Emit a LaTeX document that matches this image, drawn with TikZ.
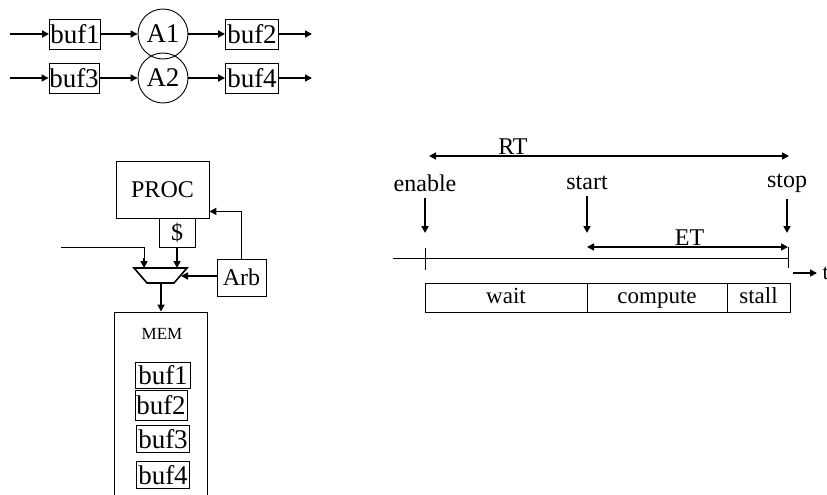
\documentclass[tikz,border=0pt]{standalone}
\usepackage{fontspec}
\setmainfont{Liberation Serif}
\usetikzlibrary{calc,arrows.meta,positioning}
\tikzset{
  bufbox/.style={draw,line width=0.9pt,inner sep=0pt,minimum width=51,minimum height=30,
    font=\fontsize{27}{30}\selectfont},
  actor/.style={circle,draw,line width=0.9pt,inner sep=0pt,minimum size=50,
    font=\fontsize{27}{30}\selectfont},
  barbox/.style={draw,line width=0.9pt,inner sep=0pt,outer sep=0pt,minimum height=29,
    text height=16pt,text depth=5pt,font=\fontsize{23}{26}\selectfont},
  flow/.style={->,line width=1.6pt},
}

\begin{document}
\begin{tikzpicture}[x=1pt, y=-1pt, >={Triangle[length=7pt,width=7pt]},
    font=\fontsize{24}{28}\selectfont]
    \useasboundingbox (0,0) rectangle (827,495);
    % two pipelines
    \node[bufbox] (b1) at (75,34) {buf1};
    \node[actor] (a1) at (163,34) {A1};
    \node[bufbox,minimum width=53] (b2) at (252,34) {buf2};
    \coordinate (in1) at (10,34);
    \coordinate (out1) at (312,34);
    \draw[flow] (in1) -- (b1);
    \draw[flow] (b1) -- (a1);
    \draw[flow] (a1) -- (b2);
    \draw[flow] (b2) -- (out1);
    \node[bufbox,minimum width=50] (b3) at (74,78) {buf3};
    \node[actor] (a2) at (163,78) {A2};
    \node[bufbox,minimum width=53] (b4) at (252,78) {buf4};
    \coordinate (in2) at (10,78);
    \coordinate (out2) at (312,78);
    \draw[flow] (in2) -- (b3);
    \draw[flow] (b3) -- (a2);
    \draw[flow] (a2) -- (b4);
    \draw[flow] (b4) -- (out2);
    % processor, cache, arbiter, mux
    \node[draw,line width=0.9pt,minimum width=93,minimum height=57] (proc) at (162.5,189.5) {PROC};
    \node[draw,line width=0.9pt,minimum width=36,minimum height=29,inner sep=0pt] (cache) at (177,232.5) {\$};
    \node[draw,line width=0.9pt,minimum width=49,minimum height=37,inner sep=0pt] (arb) at (241.5,277.5) {Arb};
    \coordinate (mtl) at (134,268);
    \coordinate (mtr) at (187,268);
    \coordinate (mbr) at (174,283);
    \coordinate (mbl) at (147,283);
    \draw[line width=1.6pt] (mtl) -- (mtr) -- (mbr) -- (mbl) -- cycle;
    \coordinate (ext) at (61,247);
    \coordinate (mux1) at (144,268);
    \coordinate (mux2) at (cache.south |- mtl);
    \coordinate (muxr) at (181,276);
    \coordinate (muxo) at (161,283);
    \draw[line width=0.9pt] (ext) -| (mux1);
    \draw[flow] ($(mux1)+(0,-10)$) -- (mux1);
    \draw[flow] (cache.south) -- (mux2);
    \draw[flow] (arb.west |- muxr) -- (muxr);
    \draw[flow] (arb.north) |- ($(proc.south east)+(0,-7)$);
    % memory
    \node[draw,line width=0.9pt,minimum width=93,minimum height=188] (mem) at (160.5,406) {};
    \draw[flow] (muxo) -- (muxo |- mem.north);
    \node[font=\fontsize{17}{20}\selectfont] (memlbl) at (162,334) {MEM};
    \node[bufbox,minimum width=55,minimum height=26] (m1) at (163,375) {buf1};
    \node[bufbox,minimum width=52] (m2) at (161,405) {buf2};
    \node[bufbox,minimum width=53,minimum height=27] (m3) at (163,439) {buf3};
    \node[bufbox,minimum width=53,minimum height=27] (m4) at (163,475) {buf4};
    % timeline
    \coordinate (rtl) at (429,156);
    \coordinate (rtr) at (789,156);
    \draw[<->,line width=1.6pt] (rtl) -- node[above,pos=0.233,inner sep=1pt] (rt) {RT} (rtr);
    \node (enable) at (425,183) {enable};
    \node (start) at (587,183) {start};
    \node (stop) at (787,183) {stop};
    \coordinate (te) at (425,233);
    \coordinate (ts) at (587,233);
    \coordinate (tp) at (787,233);
    \draw[flow,shorten <=3pt] (enable.south) -- (te);
    \draw[flow,shorten <=3pt] (start.south) -- (ts);
    \draw[flow,shorten <=3pt] (stop.south) -- (tp);
    \coordinate (etl) at (587,247);
    \coordinate (etr) at (788,247);
    \draw[<->,line width=1.6pt] (etl) -- node[above,pos=0.51,inner sep=1pt] (et) {ET} (etr);
    \coordinate (ax0) at (393,258);
    \coordinate (ax1) at (788,258);
    \draw[line width=0.9pt] (ax0) -- (ax1);
    \draw[line width=0.9pt] (425,248) -- (425,270);
    \draw[line width=0.9pt] (788,247) -- (788,268);
    \coordinate (tarr) at (793,273);
    \node[anchor=west,inner sep=0pt,font=\fontsize{22}{24}\selectfont] (tlbl) at (822.5,273) {t};
    \draw[flow] (tarr) -- (817,273);
    % phases
    \node[barbox,minimum width=162,anchor=west] (wait) at (425,297.5) {wait};
    \node[barbox,minimum width=140,right=0pt of wait] (compute) {compute};
    \node[barbox,minimum width=63,right=0pt of compute] (stall) {stall};
\end{tikzpicture}
\end{document}
